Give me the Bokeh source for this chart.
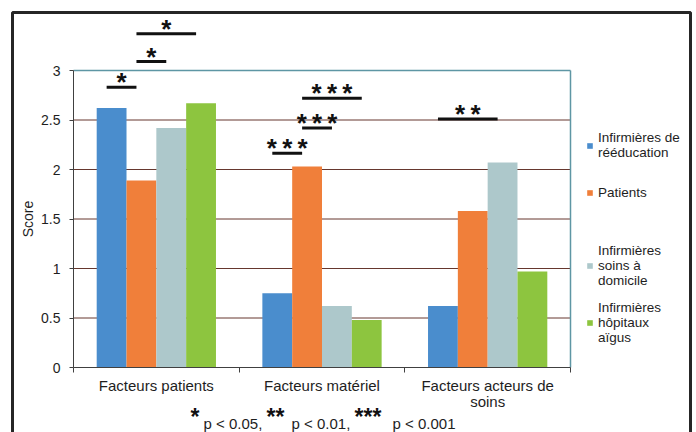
from bokeh.plotting import figure
from bokeh.models import (Range1d, FixedTicker, NumeralTickFormatter, Legend,
                          LegendItem, Label, BoxAnnotation, ColumnDataSource)
from bokeh.embed import file_html
from bokeh.resources import INLINE
from bokeh.core.properties import value

# ---------------- data ----------------
categories = ["Facteurs patients", "Facteurs matériel", "Facteurs acteurs de\nsoins"]
series_names = ["Infirmières de\nrééducation", "Patients",
                "Infirmières\nsoins à\ndomicile", "Infirmières\nhôpitaux\naïgus"]
reeducation = [2.62, 0.75, 0.62]
patients = [1.89, 2.03, 1.58]
domicile = [2.42, 0.62, 2.07]
aigus = [2.67, 0.48, 0.97]
series_values = [reeducation, patients, domicile, aigus]
series_colors = ["#4a8dcd", "#f07f3a", "#adc8cb", "#8dc53f"]
y_ticks = [0, 0.5, 1, 1.5, 2, 2.5, 3]

# significance brackets: group, from series, to series, level, label
sig_group = [0, 0, 0, 1, 1, 1, 2]
sig_from = [0, 1, 1, 0, 1, 1, 0]
sig_to = [1, 2, 3, 1, 2, 3, 2]
sig_level = [2.83, 3.09, 3.37, 2.165, 2.42, 2.72, 2.51]
sig_label = ["*", "*", "*", "***", "***", "***", "**"]

footnote_stars = ["*", "**", "***"]
footnote_texts = ["p < 0.05,", "p < 0.01,", "p < 0.001"]

# ---------------- layout (pixels) ----------------
W, H = 696, 432
X0_PX, X3_PX = 73, 570      # plot area left / right
Y0_PX, Y3_PX = 367, 70      # value 0 / value 3
ppx = (X3_PX - X0_PX) / 3.0
ppy = (Y0_PX - Y3_PX) / 3.0

def px_x(px):
    return (px - X0_PX) / ppx

def px_y(py):
    return (Y0_PX - py) / ppy

FONT = "Liberation Sans"
TXT = "#1e1e1e"
p = figure(width=W, height=H, output_backend="svg", toolbar_location=None,
           x_range=Range1d(px_x(0), px_x(W)), y_range=Range1d(px_y(H), px_y(0)),
           min_border=0)
p.outline_line_color = None
p.background_fill_color = "white"
p.border_fill_color = "white"
p.grid.visible = False

n_cat = len(categories)
# gridlines (behind bars)
GRID = "#66372e"
inner = y_ticks[1:-1]
p.segment(x0=[0] * len(inner), y0=inner, x1=[n_cat] * len(inner), y1=inner,
          line_color=GRID, line_width=1)

bar_w = 0.18
offsets = [(k - 1.5) * bar_w for k in range(4)]
renderers = []
for k, (vals, col) in enumerate(zip(series_values, series_colors)):
    xs = [i + 0.5 + offsets[k] for i in range(n_cat)]
    src = ColumnDataSource(dict(x=xs, top=vals))
    r = p.vbar(x="x", top="top", bottom=0, width=bar_w, source=src,
               fill_color=col, line_color=None)
    renderers.append(r)

# plot-area border (top & right)
TEAL = "#5e96a4"
p.segment(x0=[0, n_cat], y0=[y_ticks[-1], 0], x1=[n_cat, n_cat], y1=[y_ticks[-1], y_ticks[-1]],
          line_color=TEAL, line_width=1.5)

# axes drawn at fixed data locations
p.xaxis.fixed_location = 0
p.xaxis.bounds = (0, n_cat)
p.xaxis.ticker = FixedTicker(ticks=[i + 0.5 for i in range(n_cat)],
                             minor_ticks=list(range(n_cat + 1)))
p.xaxis.major_label_overrides = {i + 0.5: c for i, c in enumerate(categories)}
p.xaxis.major_tick_out = 0
p.xaxis.major_tick_in = 0
p.xaxis.minor_tick_out = 5
p.xaxis.minor_tick_in = 0
p.xaxis.minor_tick_line_color = "#404040"
p.xaxis.axis_line_color = "#404040"
p.xaxis.major_label_standoff = 4
p.xaxis.major_label_text_font = FONT
p.xaxis.major_label_text_font_size = "15px"
p.xaxis.major_label_text_line_height = 0.95
p.xaxis.major_label_text_color = TXT

p.yaxis.fixed_location = 0
p.yaxis.bounds = (0, y_ticks[-1])
p.yaxis.ticker = FixedTicker(ticks=y_ticks, minor_ticks=[])
p.yaxis.formatter = NumeralTickFormatter(format="0.[0]")
p.yaxis.axis_line_color = "#404040"
p.yaxis.major_tick_line_color = "#404040"
p.yaxis.major_tick_out = 4
p.yaxis.major_tick_in = 0
p.yaxis.major_label_standoff = 9
p.yaxis.major_label_text_font = FONT
p.yaxis.major_label_text_font_size = "14px"
p.yaxis.major_label_text_color = TXT
p.yaxis.axis_label = "Score"
p.yaxis.axis_label_text_font = FONT
p.yaxis.axis_label_text_font_size = "14px"
p.yaxis.axis_label_text_font_style = "normal"
p.yaxis.axis_label_text_color = TXT
p.yaxis.axis_label_standoff = 2

# significance brackets
shift = 0.03
def bar_center(g, s):
    return g + 0.5 + offsets[s]
sx0 = [bar_center(g, a) - shift for g, a in zip(sig_group, sig_from)]
sx1 = [bar_center(g, b) - shift for g, b in zip(sig_group, sig_to)]
p.segment(x0=sx0, y0=sig_level, x1=sx1, y1=sig_level, line_color="#111111", line_width=3)
p.text(x=[(a + b) / 2 for a, b in zip(sx0, sx1)], y=sig_level,
       text=["\u2009".join(s) for s in sig_label],
       text_align="center", text_baseline="alphabetic", y_offset=-5,
       text_font=value(FONT), text_font_style="bold", text_font_size="26px",
       text_color="#111111")

# legend: one block per series, each placed where the reference puts it
legend_bottom_px = [160, 200, 288, 345]
for name, r, bottom in zip(series_names, renderers, legend_bottom_px):
    p.add_layout(Legend(items=[LegendItem(label=name, renderers=[r])],
                        location=(586, H - bottom), padding=0, margin=0, spacing=0,
                        glyph_width=7, glyph_height=7, label_standoff=5, label_height=12,
                        label_text_font=FONT, label_text_font_size="13.5px",
                        label_text_line_height=1.2, label_text_color=TXT,
                        border_line_color=None, background_fill_alpha=0))

# footnote
star_x = [190, 266, 354]
text_x = [203, 291, 392]
for sx, tx, st, tt in zip(star_x, text_x, footnote_stars, footnote_texts):
    p.add_layout(Label(x=sx, y=H - 416, x_units="screen", y_units="screen", text=st,
                       text_font=FONT, text_font_style="bold", text_font_size="23px",
                       text_color="#111111", text_baseline="alphabetic"))
    p.add_layout(Label(x=tx, y=H - 423, x_units="screen", y_units="screen", text=tt,
                       text_font=FONT, text_font_size="15px",
                       text_color=TXT, text_baseline="alphabetic"))

# outer frame
p.add_layout(BoxAnnotation(left=px_x(12), right=px_x(690), top=px_y(12), bottom=px_y(450),
                           fill_alpha=0, line_color="#262626", line_alpha=1, line_width=3))

open("out.html", "w").write(file_html(p, INLINE))
